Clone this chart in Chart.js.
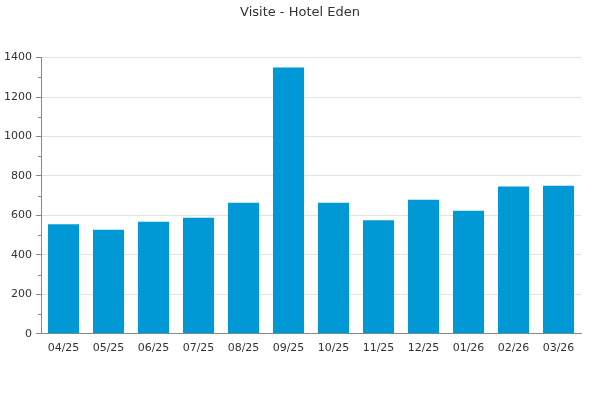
<!DOCTYPE html>
<html>
<head>
<meta charset="utf-8">
<script src="https://cdn.jsdelivr.net/npm/chart.js@4"></script>
<style>
  html, body { margin: 0; padding: 0; background: #fff; }
  #wrap { width: 600px; height: 400px; }
</style>
</head>
<body>
<div id="wrap"><canvas id="visiteChart"></canvas></div>
<script>
const months = ["04/25", "05/25", "06/25", "07/25", "08/25", "09/25", "10/25", "11/25", "12/25", "01/26", "02/26", "03/26"];
const visits = [555, 528, 568, 588, 664, 1350, 664, 575, 680, 624, 746, 751];

document.addEventListener("DOMContentLoaded", () => {
  Chart.defaults.font.family = "'DejaVu Sans', sans-serif";
  Chart.defaults.color = "#333";

  // tacche minori sull'asse y (a metà tra le tacche principali)
  const minorTicks = {
    id: "minorTicks",
    afterDraw(chart) {
      const y = chart.scales.y;
      const c = chart.ctx;
      c.save();
      c.strokeStyle = "#888";
      c.lineWidth = 1;
      for (let v = 100; v < y.max; v += 200) {
        const py = Math.round(y.getPixelForValue(v)) + 0.5;
        c.beginPath();
        c.moveTo(y.right - 3, py);
        c.lineTo(y.right, py);
        c.stroke();
      }
      c.restore();
    },
  };

  const ctx = document.getElementById("visiteChart").getContext("2d");
  new Chart(ctx, {
    type: "bar",
    data: {
      labels: months,
      datasets: [
        {
          label: "Visite",
          data: visits,
          backgroundColor: "#0198d6",
          barPercentage: 0.69,
          categoryPercentage: 1,
        },
      ],
    },
    options: {
      responsive: true,
      maintainAspectRatio: false,
      animation: false,
      layout: { padding: { left: 0, right: 0, top: 0, bottom: 45 } },
      plugins: {
        legend: { display: false },
        tooltip: { enabled: false },
        title: {
          display: true,
          text: "Visite - Hotel Eden",
          color: "#333",
          font: { size: 13, weight: "normal" },
          padding: { top: 5, bottom: 37 },
        },
      },
      scales: {
        x: {
          grid: { display: false },
          border: { color: "#888" },
          ticks: { font: { size: 11 }, padding: 0, maxRotation: 0 },
        },
        y: {
          min: 0,
          max: 1400,
          afterFit(scale) {
            scale.width = 41;
          },
          border: { color: "#888" },
          grid: {
            color: (c) => (c.tick && c.tick.value !== 0 ? "#e3e3e3" : "transparent"),
            tickColor: "#888",
            tickLength: 5,
          },
          ticks: {
            stepSize: 200,
            padding: 4,
            font: { size: 11 },
            callback: (v) => String(v),
          },
        },
        // spazio vuoto a destra, così il titolo resta centrato sulla pagina
        yRight: {
          position: "right",
          display: true,
          min: 0,
          max: 1400,
          afterFit(scale) {
            scale.width = 19;
          },
          border: { display: false },
          grid: { display: false, drawTicks: false },
          ticks: { display: false },
        },
      },
    },
    plugins: [minorTicks],
  });
});
</script>
</body>
</html>
